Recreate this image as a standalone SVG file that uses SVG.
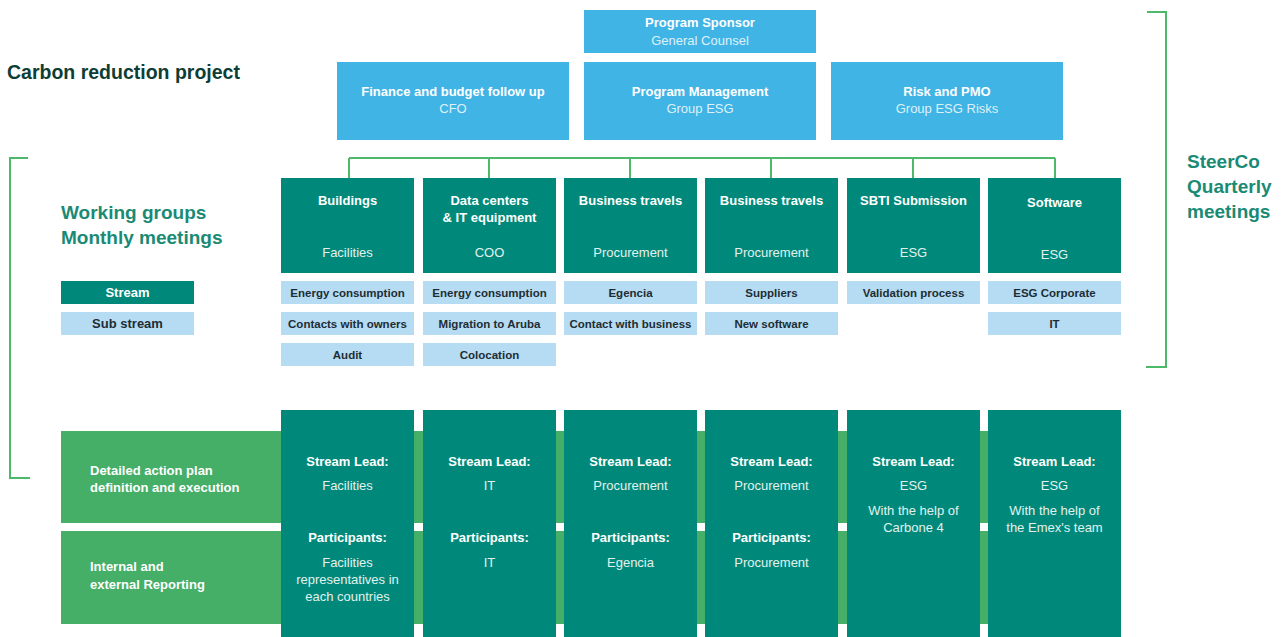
<svg xmlns="http://www.w3.org/2000/svg" width="1285" height="637" viewBox="0 0 1285 637">
  <style>
    text { font-family: "Liberation Sans", Arial, sans-serif; text-anchor: middle; }
    .gov { fill: #41b4e6; }
    .stream { fill: #00897a; }
    .sub { fill: #b5dcf3; }
    .band { fill: #45ae67; }
    .t { fill: #ffffff; font-weight: bold; font-size: 13px; }
    .s { fill: #dff1f8; font-size: 13px; }
    .ts { fill: #e2f1ee; font-size: 13px; }
    .sb { fill: #1f2d33; font-weight: bold; font-size: 11.5px; }
    .head { fill: #1a8a74; font-weight: bold; font-size: 19px; text-anchor: start; }
    .brace { fill: none; stroke: #4cb96b; stroke-width: 2; }
    .link { fill: none; stroke: #4cb96b; stroke-width: 2; }
  </style>

  <rect width="1285" height="637" fill="#ffffff"/>

  <!-- titles -->
  <text x="7" y="79" style="text-anchor:start;font-weight:bold;font-size:19.5px;fill:#0e3d36">Carbon reduction project</text>
  <text class="head" x="61" y="219">Working groups</text>
  <text class="head" x="61" y="244">Monthly meetings</text>
  <text class="head" x="1187" y="168">SteerCo</text>
  <text class="head" x="1187" y="193">Quarterly</text>
  <text class="head" x="1187" y="218">meetings</text>

  <!-- brackets -->
  <path class="brace" d="M1147 12 H1166 V367 H1146"/>
  <path class="brace" d="M28 158 H10 V478 H30"/>

  <!-- governance -->
  <g id="sponsor">
    <rect class="gov" x="584" y="10" width="232" height="43"/>
    <text class="t" x="700" y="27">Program Sponsor</text>
    <text class="s" x="700" y="45">General Counsel</text>
  </g>
  <g id="finance">
    <rect class="gov" x="337" y="62" width="232" height="78"/>
    <text class="t" x="453" y="96">Finance and budget follow up</text>
    <text class="s" x="453" y="113">CFO</text>
  </g>
  <g id="program-management">
    <rect class="gov" x="584" y="62" width="232" height="78"/>
    <text class="t" x="700" y="96">Program Management</text>
    <text class="s" x="700" y="113">Group ESG</text>
  </g>
  <g id="risk-pmo">
    <rect class="gov" x="831" y="62" width="232" height="78"/>
    <text class="t" x="947" y="96">Risk and PMO</text>
    <text class="s" x="947" y="113">Group ESG Risks</text>
  </g>

  <!-- connectors from governance to streams -->
  <g id="connectors">
    <path class="link" d="M349 158 H1055 M349 158 V178 M489 158 V178 M630 158 V178 M771 158 V178 M913 158 V178 M1055 158 V178"/>
  </g>

  <!-- legend -->
  <g id="legend">
    <rect class="stream" x="61" y="281" width="133" height="23"/>
    <text class="t" x="127.5" y="297">Stream</text>
    <rect class="sub" x="61" y="312" width="133" height="23"/>
    <text class="sb" x="127.5" y="328" style="font-size:13px">Sub stream</text>
  </g>

  <!-- bottom bands -->
  <g id="bands">
    <rect class="band" x="61" y="431" width="1060" height="92"/>
    <rect class="band" x="61" y="531" width="1060" height="93"/>
    <text class="t" x="90" y="475" style="text-anchor:start">Detailed action plan</text>
    <text class="t" x="90" y="492" style="text-anchor:start">definition and execution</text>
    <text class="t" x="90" y="571" style="text-anchor:start">Internal and</text>
    <text class="t" x="90" y="589" style="text-anchor:start">external Reporting</text>
  </g>

  <!-- streams -->
  <g id="buildings">
    <rect class="stream" x="281" y="178" width="133" height="95"/>
    <text class="t" x="347.5" y="205">Buildings</text>
    <text class="ts" x="347.5" y="257">Facilities</text>
    <rect class="sub" x="281" y="281" width="133" height="23"/>
    <text class="sb" x="347.5" y="297">Energy consumption</text>
    <rect class="sub" x="281" y="312" width="133" height="23"/>
    <text class="sb" x="347.5" y="328">Contacts with owners</text>
    <rect class="sub" x="281" y="343" width="133" height="23"/>
    <text class="sb" x="347.5" y="359">Audit</text>
    <rect class="stream" x="281" y="410" width="133" height="227"/>
    <text class="t" x="347.5" y="466">Stream Lead:</text>
    <text class="ts" x="347.5" y="490">Facilities</text>
    <text class="t" x="347.5" y="542">Participants:</text>
    <text class="ts" x="347.5" y="567">Facilities</text>
    <text class="ts" x="347.5" y="584">representatives in</text>
    <text class="ts" x="347.5" y="601">each countries</text>
  </g>

  <g id="data-centers">
    <rect class="stream" x="423" y="178" width="133" height="95"/>
    <text class="t" x="489.5" y="205">Data centers</text>
    <text class="t" x="489.5" y="222">&amp; IT equipment</text>
    <text class="ts" x="489.5" y="257">COO</text>
    <rect class="sub" x="423" y="281" width="133" height="23"/>
    <text class="sb" x="489.5" y="297">Energy consumption</text>
    <rect class="sub" x="423" y="312" width="133" height="23"/>
    <text class="sb" x="489.5" y="328">Migration to Aruba</text>
    <rect class="sub" x="423" y="343" width="133" height="23"/>
    <text class="sb" x="489.5" y="359">Colocation</text>
    <rect class="stream" x="423" y="410" width="133" height="227"/>
    <text class="t" x="489.5" y="466">Stream Lead:</text>
    <text class="ts" x="489.5" y="490">IT</text>
    <text class="t" x="489.5" y="542">Participants:</text>
    <text class="ts" x="489.5" y="567">IT</text>
  </g>

  <g id="business-travels-1">
    <rect class="stream" x="564" y="178" width="133" height="95"/>
    <text class="t" x="630.5" y="205">Business travels</text>
    <text class="ts" x="630.5" y="257">Procurement</text>
    <rect class="sub" x="564" y="281" width="133" height="23"/>
    <text class="sb" x="630.5" y="297">Egencia</text>
    <rect class="sub" x="564" y="312" width="133" height="23"/>
    <text class="sb" x="630.5" y="328">Contact with business</text>
    <rect class="stream" x="564" y="410" width="133" height="227"/>
    <text class="t" x="630.5" y="466">Stream Lead:</text>
    <text class="ts" x="630.5" y="490">Procurement</text>
    <text class="t" x="630.5" y="542">Participants:</text>
    <text class="ts" x="630.5" y="567">Egencia</text>
  </g>

  <g id="business-travels-2">
    <rect class="stream" x="705" y="178" width="133" height="95"/>
    <text class="t" x="771.5" y="205">Business travels</text>
    <text class="ts" x="771.5" y="257">Procurement</text>
    <rect class="sub" x="705" y="281" width="133" height="23"/>
    <text class="sb" x="771.5" y="297">Suppliers</text>
    <rect class="sub" x="705" y="312" width="133" height="23"/>
    <text class="sb" x="771.5" y="328">New software</text>
    <rect class="stream" x="705" y="410" width="133" height="227"/>
    <text class="t" x="771.5" y="466">Stream Lead:</text>
    <text class="ts" x="771.5" y="490">Procurement</text>
    <text class="t" x="771.5" y="542">Participants:</text>
    <text class="ts" x="771.5" y="567">Procurement</text>
  </g>

  <g id="sbti-submission">
    <rect class="stream" x="847" y="178" width="133" height="95"/>
    <text class="t" x="913.5" y="205">SBTI Submission</text>
    <text class="ts" x="913.5" y="257">ESG</text>
    <rect class="sub" x="847" y="281" width="133" height="23"/>
    <text class="sb" x="913.5" y="297">Validation process</text>
    <rect class="stream" x="847" y="410" width="133" height="227"/>
    <text class="t" x="913.5" y="466">Stream Lead:</text>
    <text class="ts" x="913.5" y="490">ESG</text>
    <text class="ts" x="913.5" y="515">With the help of</text>
    <text class="ts" x="913.5" y="532">Carbone 4</text>
  </g>

  <g id="software">
    <rect class="stream" x="988" y="178" width="133" height="95"/>
    <text class="t" x="1054.5" y="207">Software</text>
    <text class="ts" x="1054.5" y="259">ESG</text>
    <rect class="sub" x="988" y="281" width="133" height="23"/>
    <text class="sb" x="1054.5" y="297">ESG Corporate</text>
    <rect class="sub" x="988" y="312" width="133" height="23"/>
    <text class="sb" x="1054.5" y="328">IT</text>
    <rect class="stream" x="988" y="410" width="133" height="227"/>
    <text class="t" x="1054.5" y="466">Stream Lead:</text>
    <text class="ts" x="1054.5" y="490">ESG</text>
    <text class="ts" x="1054.5" y="515">With the help of</text>
    <text class="ts" x="1054.5" y="532">the Emex's team</text>
  </g>
</svg>
